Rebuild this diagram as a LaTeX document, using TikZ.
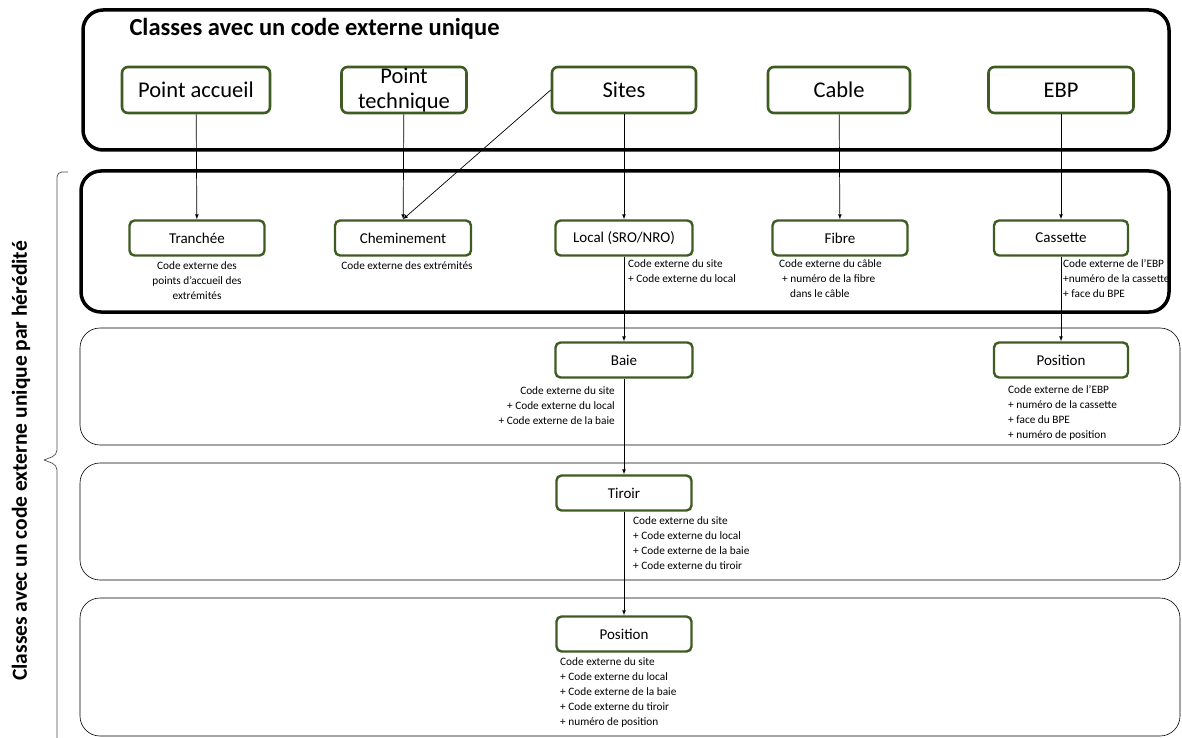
\documentclass[tikz,border=0pt]{standalone}
\usepackage{fontspec}
\setmainfont{Carlito}
\usetikzlibrary{positioning,arrows}
\definecolor{colorcls}{HTML}{3E5C22}
\tikzset{
  cls/.style={draw=colorcls, line width=2.6pt, rounded corners=6pt, fill=white, minimum width=144pt, minimum height=46pt, inner sep=0pt, align=center, font=\fontsize{22.5}{25}\selectfont},
  sub/.style={draw=colorcls, line width=2.4pt, rounded corners=5pt, fill=white, minimum width=135pt, minimum height=35pt, inner sep=0pt, font=\fontsize{15}{15}\selectfont},
  txt/.style={inner sep=0pt, font=\fontsize{11.3}{15}\selectfont},
  grpthick/.style={draw, line width=3.5pt, rounded corners=20pt},
  grpthin/.style={draw, line width=0.6pt, rounded corners=20pt},
  edge/.style={black, -latex, line width=0.7pt}
}

\begin{document}
\begin{tikzpicture}[x=1pt, y=-1pt]
\useasboundingbox (0,0) rectangle (1182,738);
% groups
\draw[grpthick] (83,10) rectangle (1169,150);
\draw[grpthick] (81,171) rectangle (1169,312);
\draw[grpthin] (80,328) rectangle (1180,445);
\draw[grpthin] (80,463) rectangle (1180,580);
\draw[grpthin] (80,598) rectangle (1180,736);
\node[anchor=west, font=\bfseries\fontsize{24.5}{24.5}\selectfont] (ttl) at (126,29) {Classes avec un code externe unique};
% classes with their own code
\node[cls, minimum width=148pt] (pa) at (196,90) {Point accueil};
\node[cls, minimum width=125pt] (pt) at (404,90) {Point\\technique};
\node[cls] (si) at (624,90) {Sites};
\node[cls, minimum width=142pt] (ca) at (839,90) {Cable};
\node[cls, minimum width=145pt] (eb) at (1061,90) {EBP};
% inherited
\node[sub] (tr) at (197,238) {Tranchée};
\node[sub, minimum width=136pt] (ch) at (403,238) {Cheminement};
\node[sub, minimum width=137pt] (lo) at (624,238) {Local (SRO/NRO)};
\node[sub] (fi) at (840,238) {Fibre};
\node[sub, minimum width=134pt] (cs) at (1061,238) {Cassette};
\node[sub, minimum width=137pt] (ba) at (624,360) {Baie};
\node[sub, minimum width=134pt] (pe) at (1061,360) {Position};
\node[sub] (ti) at (624,493) {Tiroir};
\node[sub] (po) at (624,634) {Position};
% codes
\node[txt, align=center, anchor=north] (trc) at (197,261) {Code externe des\\points d’accueil des\\extrémités};
\node[txt, anchor=north] (chc) at (407,261) {Code externe des extrémités};
\node[txt, align=left, anchor=north west] (loc) at (628,259) {Code externe du site\\+ Code externe du local};
\node[txt, align=left, anchor=north west] (fic) at (779,259) {Code externe du câble\\\hspace{3pt}+ numéro de la fibre\\\hspace{11pt}dans le câble};
\node[txt, align=left, anchor=north west] (csc) at (1063,259) {Code externe de l’EBP\\+numéro de la cassette\\+ face du BPE};
\node[txt, align=right, anchor=north east] (bac) at (615,386) {Code externe du site\\+ Code externe du local\\+ Code externe de la baie};
\node[txt, align=left, anchor=north west] (pec) at (1008,385) {Code externe de l’EBP\\+ numéro de la cassette\\+ face du BPE\\+ numéro de position};
\node[txt, align=left, anchor=north west] (tic) at (633,516) {Code externe du site\\+ Code externe du local\\+ Code externe de la baie\\+ Code externe du tiroir};
\node[txt, align=left, anchor=north west] (poc) at (560,657) {Code externe du site\\+ Code externe du local\\+ Code externe de la baie\\+ Code externe du tiroir\\+ numéro de position};
% links
\draw[edge] (pa) -- (tr);
\draw[edge] (pt) -- (ch);
\draw[edge] (si.west) -- (ch.north);
\draw[edge] (si) -- (lo);
\draw[edge] (ca) -- (fi);
\draw[edge] (eb) -- (cs);
\draw[edge] (lo) -- (ba);
\draw[edge] (cs) -- (pe);
\draw[edge] (ba) -- (ti);
\draw[edge] (ti) -- (po);
% brace
\draw[line width=0.7pt, black!70, rounded corners=5pt] (68,172) -- (57,172) -- (57,455) -- (44,460);
\draw[line width=0.7pt, black!70, rounded corners=5pt] (44,460) -- (57,465) -- (57,740);
\node[rotate=90, font=\bfseries\fontsize{21.5}{21.5}\selectfont] (side) at (21,461) {Classes avec un code externe unique par hérédité};
\end{tikzpicture}
\end{document}
